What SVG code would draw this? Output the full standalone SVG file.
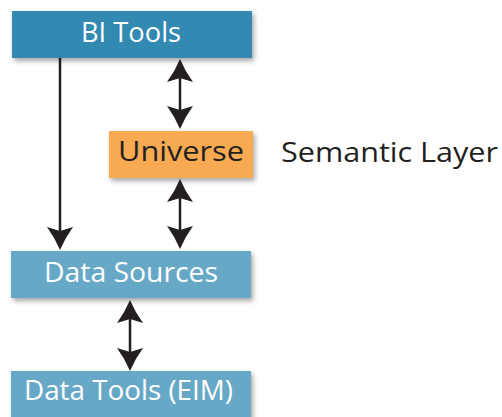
<svg xmlns="http://www.w3.org/2000/svg" width="502" height="417" viewBox="0 0 502 417">
  <style>
    .lbl { font-family: "Open Sans", "Liberation Sans", sans-serif; font-size: 28px; }
    .w { fill: #ffffff; }
    .d { fill: #231f20; }
    .conn { stroke: #231f20; stroke-width: 2.5; fill: none; }
  </style>
  <defs>
    <filter id="sh" x="-10%" y="-20%" width="130%" height="160%">
      <feDropShadow dx="2" dy="3" stdDeviation="2.5" flood-color="#000" flood-opacity="0.35"/>
    </filter>
    <marker id="ah" viewBox="-24 -14 26 28" refX="-10" refY="0" markerWidth="26" markerHeight="28" markerUnits="userSpaceOnUse" orient="auto-start-reverse">
      <path d="M0,0 Q-12,-5 -23,-13 L-19,0 L-23,13 Q-12,5 0,0 Z" fill="#231f20"/>
    </marker>
  </defs>
  <rect width="502" height="417" fill="#ffffff"/>

  <g id="connectors">
    <line class="conn" x1="60" y1="58" x2="60" y2="240" marker-end="url(#ah)"/>
    <line class="conn" x1="180" y1="69" x2="180" y2="119" marker-start="url(#ah)" marker-end="url(#ah)"/>
    <line class="conn" x1="180" y1="189" x2="180" y2="239" marker-start="url(#ah)" marker-end="url(#ah)"/>
    <line class="conn" x1="130" y1="310" x2="130" y2="361" marker-start="url(#ah)" marker-end="url(#ah)"/>
  </g>

  <g id="bi-tools">
    <rect x="12" y="11" width="240" height="47" fill="#3389b2" filter="url(#sh)"/>
    <text class="lbl w" x="81" y="42" textLength="100" lengthAdjust="spacingAndGlyphs">BI Tools</text>
  </g>

  <g id="universe">
    <rect x="109" y="131" width="144" height="47" fill="#f8aa52" filter="url(#sh)"/>
    <text class="lbl d" x="118" y="161" textLength="126" lengthAdjust="spacingAndGlyphs">Universe</text>
  </g>

  <g id="semantic-layer">
    <text class="lbl d" x="281" y="162" textLength="217" lengthAdjust="spacingAndGlyphs">Semantic Layer</text>
  </g>

  <g id="data-sources">
    <rect x="11" y="251" width="240" height="47" fill="#68a8c7" filter="url(#sh)"/>
    <text class="lbl w" x="44" y="282" textLength="174" lengthAdjust="spacingAndGlyphs">Data Sources</text>
  </g>

  <g id="data-tools">
    <rect x="11" y="371" width="240" height="50" fill="#68a8c7" filter="url(#sh)"/>
    <text class="lbl w" x="24" y="400" textLength="209" lengthAdjust="spacingAndGlyphs">Data Tools (EIM)</text>
  </g>
</svg>
